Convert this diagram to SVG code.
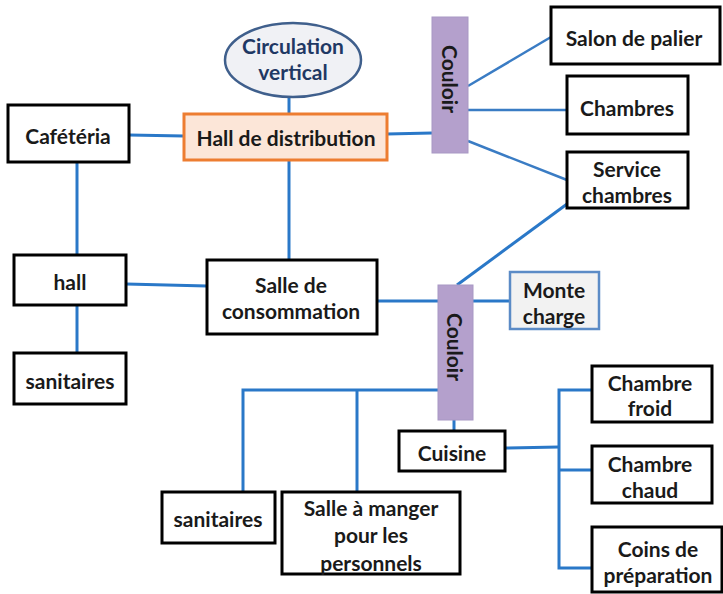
<svg xmlns="http://www.w3.org/2000/svg" width="723" height="594" viewBox="0 0 723 594">
<style>
.box{fill:#fff;stroke:#000;stroke-width:3}
.t{font-family:Lato,"Open Sans",sans-serif;font-weight:bold;font-size:21px;fill:#1a1a1a;text-anchor:middle;dominant-baseline:central}
.c{stroke:#2a78c8;stroke-width:3;fill:none}
.c2{stroke:#3a7cc4;stroke-width:2.5;fill:none}
.cor{fill:#b4a0cc;stroke:#a898c4;stroke-width:1}
</style>
<rect width="723" height="594" fill="#fff"/>
<g id="connectors">
<line class="c" x1="289" y1="97" x2="289" y2="114"/>
<line class="c" x1="129" y1="135" x2="184" y2="136"/>
<line class="c" x1="289" y1="160" x2="289" y2="260"/>
<line class="c" x1="77" y1="162" x2="77" y2="255"/>
<line class="c" x1="77" y1="305" x2="77" y2="353"/>
<line class="c" x1="126" y1="284" x2="207" y2="286"/>
<line class="c" x1="387" y1="134" x2="432" y2="133"/>
<line class="c2" x1="468" y1="86" x2="551" y2="37"/>
<line class="c2" x1="468" y1="110" x2="567" y2="110"/>
<line class="c2" x1="468" y1="141" x2="567" y2="180"/>
<line class="c" x1="567" y1="204" x2="457" y2="285"/>
<line class="c" x1="377" y1="301" x2="438" y2="301"/>
<line class="c" x1="473" y1="301" x2="510" y2="301"/>
<polyline class="c" points="243,492 243,390 438,390"/>
<line class="c" x1="357" y1="390" x2="357" y2="492"/>
<line class="c" x1="454" y1="420" x2="454" y2="431"/>
<line class="c" x1="505" y1="448" x2="559" y2="447"/>
<polyline class="c" points="592,390 559,390 559,568 592,568"/>
<line class="c" x1="559" y1="470" x2="592" y2="470"/>
</g>
<g id="circulation">
<ellipse cx="293" cy="60" rx="68" ry="37" fill="#f0f1f5" stroke="#3f5f8c" stroke-width="2.5"/>
<text class="t" x="293" y="45" style="fill:#1f3864">Circulation</text>
<text class="t" x="293" y="71" style="fill:#1f3864">vertical</text>
</g>
<g id="cafeteria">
<rect class="box" x="8" y="105" width="121" height="57"/>
<text class="t" x="68" y="135">Cafétéria</text>
</g>
<g id="hall-distribution">
<rect x="184" y="114" width="203" height="46" fill="#fce6d8" stroke="#ed7d31" stroke-width="3"/>
<text class="t" x="286" y="137">Hall de distribution</text>
</g>
<g id="couloir1">
<rect class="cor" x="432" y="17" width="36" height="136"/>
<text class="t" transform="translate(450,79) rotate(90)">Couloir</text>
</g>
<g id="salon">
<rect class="box" x="551" y="7" width="169" height="57"/>
<text class="t" x="634" y="37">Salon de palier</text>
</g>
<g id="chambres">
<rect class="box" x="567" y="76" width="121" height="58"/>
<text class="t" x="627" y="107">Chambres</text>
</g>
<g id="service">
<rect class="box" x="567" y="152" width="121" height="56"/>
<text class="t" x="627" y="168">Service</text>
<text class="t" x="627" y="194">chambres</text>
</g>
<g id="hall">
<rect class="box" x="14" y="255" width="112" height="50"/>
<text class="t" x="70" y="281">hall</text>
</g>
<g id="sanitaires1">
<rect class="box" x="14" y="353" width="112" height="51"/>
<text class="t" x="70" y="380">sanitaires</text>
</g>
<g id="salle-consommation">
<rect class="box" x="207" y="260" width="170" height="74"/>
<text class="t" x="291" y="284">Salle de</text>
<text class="t" x="291" y="310">consommation</text>
</g>
<g id="couloir2">
<rect class="cor" x="438" y="285" width="35" height="135"/>
<text class="t" transform="translate(455.5,347) rotate(90)">Couloir</text>
</g>
<g id="monte-charge">
<rect x="510" y="272" width="89" height="57" fill="#f2f2f2" stroke="#5b8bc6" stroke-width="2.5"/>
<text class="t" x="554" y="289">Monte</text>
<text class="t" x="554" y="315">charge</text>
</g>
<g id="cuisine">
<rect class="box" x="399" y="431" width="106" height="40"/>
<text class="t" x="452" y="452">Cuisine</text>
</g>
<g id="chambre-froid">
<rect class="box" x="592" y="366" width="120" height="56"/>
<text class="t" x="650" y="382">Chambre</text>
<text class="t" x="650" y="407">froid</text>
</g>
<g id="chambre-chaud">
<rect class="box" x="592" y="446" width="120" height="57"/>
<text class="t" x="650" y="463">Chambre</text>
<text class="t" x="650" y="489">chaud</text>
</g>
<g id="coins">
<rect class="box" x="592" y="527" width="130" height="65"/>
<text class="t" x="658" y="548">Coins de</text>
<text class="t" x="658" y="574">préparation</text>
</g>
<g id="sanitaires2">
<rect class="box" x="162" y="492" width="113" height="51"/>
<text class="t" x="218" y="518">sanitaires</text>
</g>
<g id="salle-manger">
<rect class="box" x="282" y="492" width="178" height="82"/>
<text class="t" x="371" y="507">Salle à manger</text>
<text class="t" x="371" y="534">pour les</text>
<text class="t" x="371" y="562">personnels</text>
</g>
</svg>
